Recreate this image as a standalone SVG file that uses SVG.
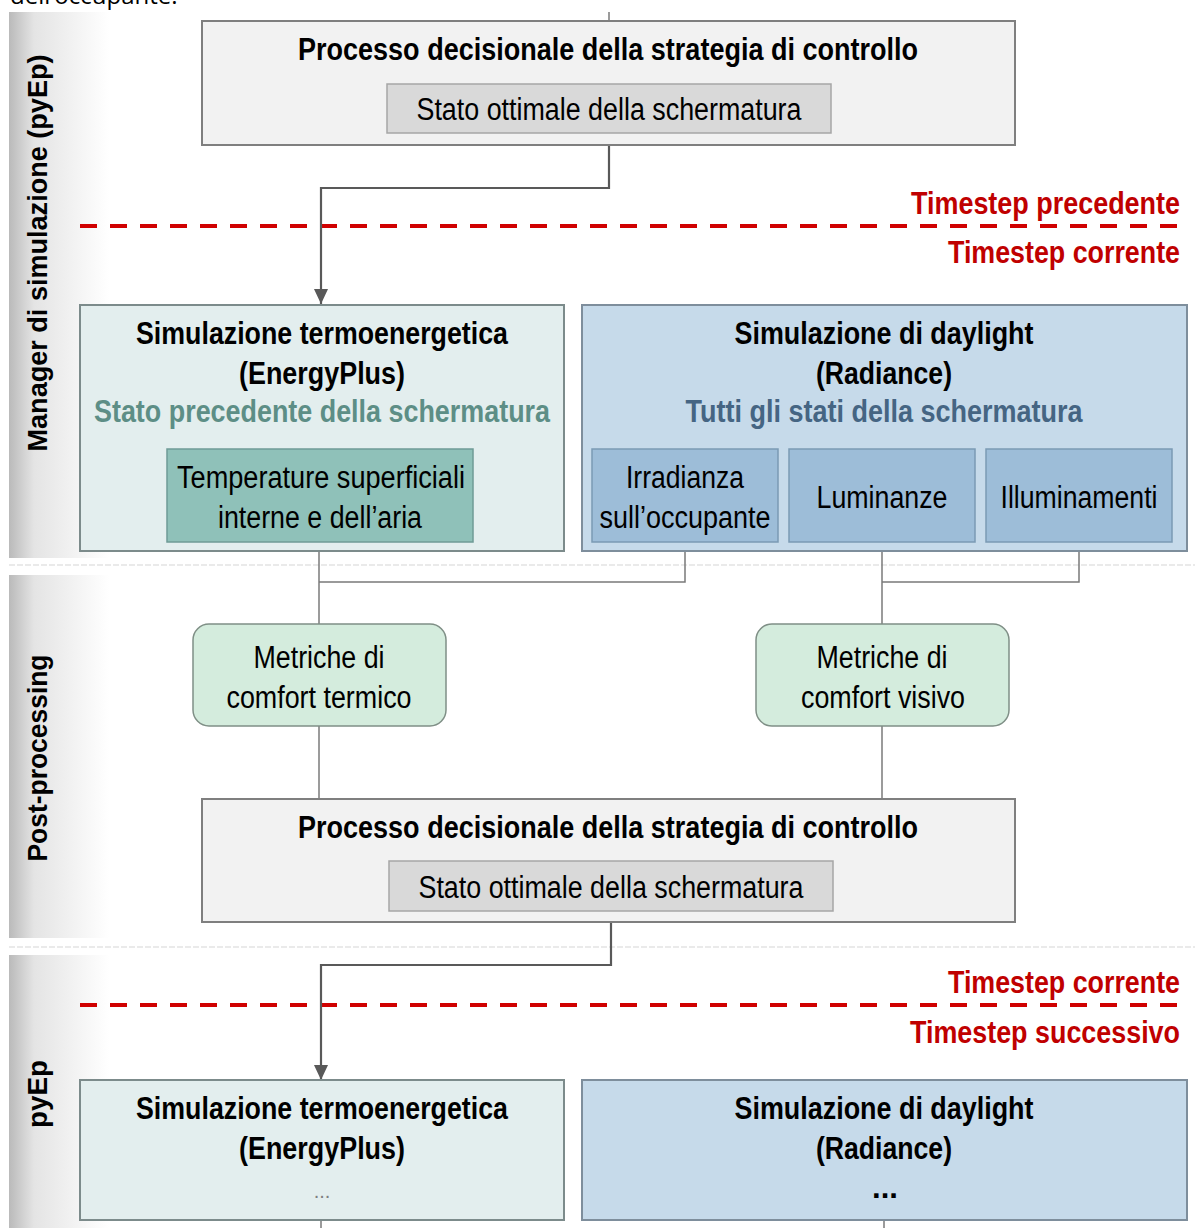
<svg xmlns="http://www.w3.org/2000/svg" width="1195" height="1228" viewBox="0 0 1195 1228">
<style>
.t{font-family:"Liberation Sans Narrow","Liberation Sans",Arial,sans-serif;font-size:31px;text-anchor:middle;fill:#000}
.b{font-weight:bold}
.red{fill:#c00000;text-anchor:end;font-weight:bold}
.band{font-family:"Liberation Sans",Arial,sans-serif;font-size:27px;font-weight:bold;text-anchor:middle;fill:#000}
.proc{fill:#f2f2f2;stroke:#7f7f7f;stroke-width:2}
.opt{fill:#d9d9d9;stroke:#a6a6a6;stroke-width:1.5}
.teal{fill:#e3eeee;stroke:#7c8b8b;stroke-width:2}
.tealin{fill:#8fc1b9;stroke:#6f9b96;stroke-width:1.5}
.blue{fill:#c6daea;stroke:#7e8e9c;stroke-width:2}
.bluein{fill:#9dbdd8;stroke:#7b9ab4;stroke-width:1.5}
.met{fill:#d4ecdd;stroke:#7f8f86;stroke-width:1.5}
.thin{fill:none;stroke:#7a7a7a;stroke-width:1.5}
.thick{fill:none;stroke:#595959;stroke-width:2.2}
.dash{fill:none;stroke:#d00000;stroke-width:4;stroke-dasharray:17 13}
.sep{fill:none;stroke:#e4e4e4;stroke-width:1.5;stroke-dasharray:6 2}
</style>
<defs>
<linearGradient id="bandg" x1="0" y1="0" x2="1" y2="0">
<stop offset="0" stop-color="#bababa"/>
<stop offset="0.25" stop-color="#e4e4e4"/>
<stop offset="1" stop-color="#ffffff"/>
</linearGradient>
<marker id="arr" markerWidth="15" markerHeight="14" refX="15" refY="7" orient="auto" markerUnits="userSpaceOnUse" viewBox="0 0 15 14">
<path d="M0,0 L15,7 L0,14 Z" fill="#595959"/>
</marker>
</defs>
<rect x="0" y="0" width="1195" height="1228" fill="#ffffff"/>
<text x="10" y="4" style="font-family:'Open Sans','Noto Sans',sans-serif;font-size:24px;fill:#000">dell’occupante.</text>

<g id="bands">
<rect x="9" y="12" width="100" height="546" fill="url(#bandg)"/>
<rect x="9" y="575" width="100" height="363" fill="url(#bandg)"/>
<rect x="9" y="955" width="100" height="273" fill="url(#bandg)"/>
<line class="sep" x1="9" y1="565" x2="1195" y2="565"/>
<line class="sep" x1="9" y1="947" x2="1195" y2="947"/>
<text class="band" transform="translate(47,253) rotate(-90)" textLength="397" lengthAdjust="spacingAndGlyphs">Manager di simulazione (pyEp)</text>
<text class="band" transform="translate(47,758) rotate(-90)" textLength="207" lengthAdjust="spacingAndGlyphs">Post-processing</text>
<text class="band" transform="translate(47,1094) rotate(-90)" textLength="68" lengthAdjust="spacingAndGlyphs">pyEp</text>
</g>

<g id="timesteps">
<line class="dash" x1="80" y1="226" x2="1190" y2="226"/>
<text class="t red" x="1180" y="214" textLength="269" lengthAdjust="spacingAndGlyphs">Timestep precedente</text>
<text class="t red" x="1180" y="263" textLength="232" lengthAdjust="spacingAndGlyphs">Timestep corrente</text>
<line class="dash" x1="80" y1="1005" x2="1190" y2="1005"/>
<text class="t red" x="1180" y="993" textLength="232" lengthAdjust="spacingAndGlyphs">Timestep corrente</text>
<text class="t red" x="1180" y="1043" textLength="270" lengthAdjust="spacingAndGlyphs">Timestep successivo</text>
</g>

<g id="connectors">
<line class="thin" x1="609" y1="12" x2="609" y2="21"/>
<path class="thick" d="M609,145 V188 H321 V304" marker-end="url(#arr)"/>
<path class="thin" d="M319,542 V624"/>
<path class="thin" d="M685,542 V582 H319"/>
<path class="thin" d="M882,542 V624"/>
<path class="thin" d="M1079,542 V582 H882"/>
<path class="thin" d="M319,726 V799"/>
<path class="thin" d="M882,726 V799"/>
<path class="thick" d="M611,911 V965 H321 V1080" marker-end="url(#arr)"/>
<line class="thin" x1="321" y1="1220" x2="321" y2="1228"/>
<line class="thin" x1="884" y1="1220" x2="884" y2="1228"/>
</g>

<g id="decision-top">
<rect class="proc" x="202" y="21" width="813" height="124"/>
<text class="t b" x="608" y="60" textLength="620" lengthAdjust="spacingAndGlyphs">Processo decisionale della strategia di controllo</text>
<g id="optimal-top">
<rect class="opt" x="387" y="84" width="444" height="49"/>
<text class="t" x="609" y="120" textLength="385" lengthAdjust="spacingAndGlyphs">Stato ottimale della schermatura</text>
</g>
</g>

<g id="energyplus">
<rect class="teal" x="80" y="305" width="484" height="246"/>
<text class="t b" x="322" y="344" textLength="372" lengthAdjust="spacingAndGlyphs">Simulazione termoenergetica</text>
<text class="t b" x="322" y="384" textLength="166" lengthAdjust="spacingAndGlyphs">(EnergyPlus)</text>
<text class="t b" x="322" y="422" textLength="456" lengthAdjust="spacingAndGlyphs" style="fill:#5d8e86">Stato precedente della schermatura</text>
<g id="temperature">
<rect class="tealin" x="167" y="449" width="306" height="93"/>
<text class="t" x="321" y="488" textLength="288" lengthAdjust="spacingAndGlyphs">Temperature superficiali</text>
<text class="t" x="320" y="528" textLength="204" lengthAdjust="spacingAndGlyphs">interne e dell’aria</text>
</g>
</g>

<g id="radiance">
<rect class="blue" x="582" y="305" width="605" height="246"/>
<text class="t b" x="884" y="344" textLength="299" lengthAdjust="spacingAndGlyphs">Simulazione di daylight</text>
<text class="t b" x="884" y="384" textLength="136" lengthAdjust="spacingAndGlyphs">(Radiance)</text>
<text class="t b" x="884" y="422" textLength="397" lengthAdjust="spacingAndGlyphs" style="fill:#456583">Tutti gli stati della schermatura</text>
<g id="irradianza">
<rect class="bluein" x="592" y="449" width="186" height="93"/>
<text class="t" x="685" y="488" textLength="118" lengthAdjust="spacingAndGlyphs">Irradianza</text>
<text class="t" x="685" y="528" textLength="171" lengthAdjust="spacingAndGlyphs">sull’occupante</text>
</g>
<g id="luminanze">
<rect class="bluein" x="789" y="449" width="186" height="93"/>
<text class="t" x="882" y="508" textLength="131" lengthAdjust="spacingAndGlyphs">Luminanze</text>
</g>
<g id="illuminamenti">
<rect class="bluein" x="986" y="449" width="186" height="93"/>
<text class="t" x="1079" y="508" textLength="157" lengthAdjust="spacingAndGlyphs">Illuminamenti</text>
</g>
</g>

<g id="comfort-termico">
<rect class="met" x="193" y="624" width="253" height="102" rx="16" ry="16"/>
<text class="t" x="319" y="668" textLength="131" lengthAdjust="spacingAndGlyphs">Metriche di</text>
<text class="t" x="319" y="708" textLength="185" lengthAdjust="spacingAndGlyphs">comfort termico</text>
</g>

<g id="comfort-visivo">
<rect class="met" x="756" y="624" width="253" height="102" rx="16" ry="16"/>
<text class="t" x="882" y="668" textLength="131" lengthAdjust="spacingAndGlyphs">Metriche di</text>
<text class="t" x="883" y="708" textLength="164" lengthAdjust="spacingAndGlyphs">comfort visivo</text>
</g>

<g id="decision-bottom">
<rect class="proc" x="202" y="799" width="813" height="123"/>
<text class="t b" x="608" y="838" textLength="620" lengthAdjust="spacingAndGlyphs">Processo decisionale della strategia di controllo</text>
<g id="optimal-bottom">
<rect class="opt" x="389" y="861" width="444" height="50"/>
<text class="t" x="611" y="898" textLength="385" lengthAdjust="spacingAndGlyphs">Stato ottimale della schermatura</text>
</g>
</g>

<g id="energyplus-next">
<rect class="teal" x="80" y="1080" width="484" height="140"/>
<text class="t b" x="322" y="1119" textLength="372" lengthAdjust="spacingAndGlyphs">Simulazione termoenergetica</text>
<text class="t b" x="322" y="1159" textLength="166" lengthAdjust="spacingAndGlyphs">(EnergyPlus)</text>
<text class="t" x="322" y="1198" style="font-size:20px;fill:#7f7f7f">...</text>
</g>

<g id="radiance-next">
<rect class="blue" x="582" y="1080" width="605" height="140"/>
<text class="t b" x="884" y="1119" textLength="299" lengthAdjust="spacingAndGlyphs">Simulazione di daylight</text>
<text class="t b" x="884" y="1159" textLength="136" lengthAdjust="spacingAndGlyphs">(Radiance)</text>
<text class="t b" x="885" y="1198">...</text>
</g>
</svg>
